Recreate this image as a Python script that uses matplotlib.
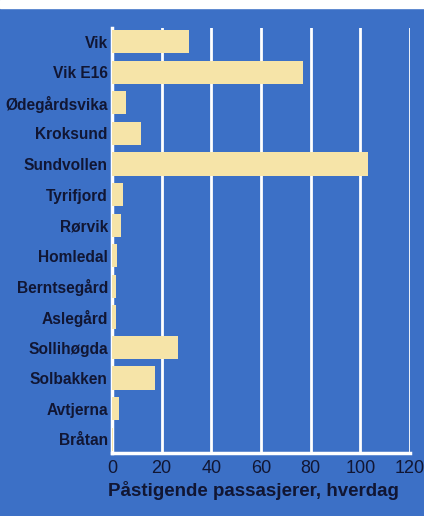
import matplotlib.pyplot as plt
from matplotlib.patches import Rectangle

stops = ["Vik", "Vik E16", "Ødegårdsvika", "Kroksund", "Sundvollen", "Tyrifjord",
         "Rørvik", "Homledal", "Berntsegård", "Aslegård", "Sollihøgda", "Solbakken",
         "Avtjerna", "Bråtan"]
passengers = [31, 77, 5.5, 11.5, 103, 4.5, 3.8, 2, 1.5, 1.5, 26.5, 17.5, 2.8, 0.3]
xticks = [0, 20, 40, 60, 80, 100, 120]

blue = "#3c70c6"
sand = "#f6e4a8"
ink = "#111633"

plt.rcParams['font.family'] = ['Liberation Sans', 'DejaVu Sans']

fig = plt.figure(figsize=(4.24, 5.16), dpi=100, facecolor=blue)
fig.add_artist(Rectangle((0, 0.984), 1, 0.016, transform=fig.transFigure,
                         color="white", zorder=0))
ax = fig.add_axes([0.264, 0.122, 0.703, 0.824])
ax.set_facecolor(blue)

y = list(range(len(stops)))
ax.barh(y, passengers, height=0.76, color=sand, zorder=3)

ax.set_xlim(0, 120)
ax.set_ylim(13.45, -0.45)
ax.set_xticks(xticks)
ax.set_yticks(y)
ax.set_yticklabels(stops, fontsize=11.2, fontweight='bold', color=ink)
ax.set_xticklabels([str(t) for t in xticks], fontsize=13, color=ink)
ax.tick_params(length=0, pad=3)
ax.tick_params(axis='x', pad=5)

ax.grid(axis='x', color='white', linewidth=2, zorder=1)
for s in ['top', 'right']:
    ax.spines[s].set_visible(False)
for s in ['left', 'bottom']:
    ax.spines[s].set_color('white')
    ax.spines[s].set_linewidth(2.5)

ax.set_xlabel("Påstigende passasjerer, hverdag", fontsize=13.5, fontweight='bold',
              color=ink)
ax.xaxis.set_label_coords(0.475, -0.065)

fig.savefig("out.png", dpi=100, facecolor=blue)
